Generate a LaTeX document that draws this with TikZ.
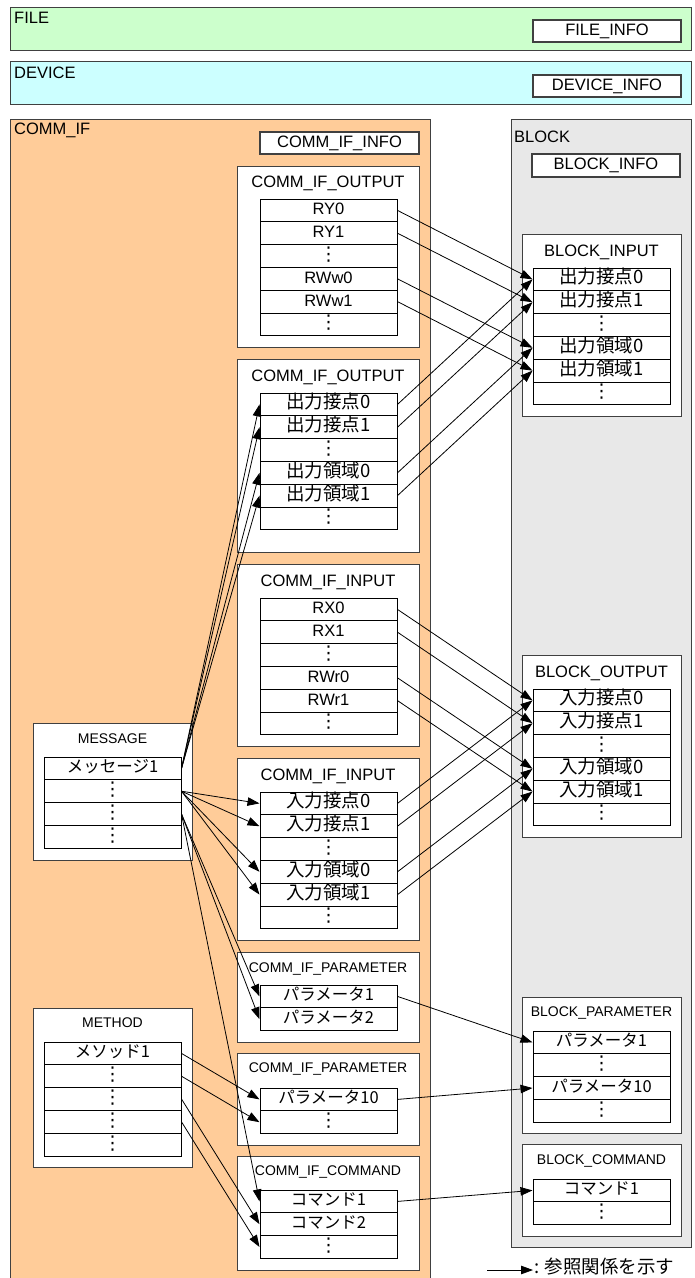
\documentclass[tikz,border=0pt]{standalone}
\usepackage{fontspec}
\setmainfont{Liberation Sans}
\newfontfamily\jpfam{Noto Sans CJK JP}
\newfontfamily\dv{DejaVu Sans}
\usetikzlibrary{arrows.meta}
\definecolor{filegreen}{HTML}{CCFFCC}
\definecolor{devcyan}{HTML}{CCFFFF}
\definecolor{commorange}{HTML}{FFCC99}
\definecolor{blockgray}{HTML}{E8E8E8}
\definecolor{edgegray}{HTML}{404040}
\newcommand\szL{\fontsize{16.5}{19}\selectfont}
\newcommand\szS{\fontsize{14}{16}\selectfont}
\newcommand\jk{\jpfam\fontsize{16.5}{19}\selectfont}
\newcommand\jp{\jpfam\fontsize{18.5}{21}\selectfont}
\newcommand\vd{{\dv\fontsize{19}{21}\selectfont ⋮}}
\newcommand\tbl[4]{%
  \foreach \lbl [count=\i] in {#4} {
    \node[cell] (#1\i) at (#2, {#3+22.8*\i-11.4}) {\lbl};
  }%
}
\begin{document}
\begin{tikzpicture}[x=1pt,y=-1pt,
  region/.style={draw=edgegray, line width=1.2pt, anchor=north west, inner sep=0pt},
  cont/.style={draw=edgegray, fill=white, line width=1.1pt, anchor=north west, inner sep=0pt},
  infobox/.style={draw=edgegray, fill=white, line width=1.1pt, font=\szL, inner sep=0pt},
  rlab/.style={anchor=west, font=\szL, inner sep=0pt},
  clabL/.style={font=\szL, inner sep=0pt},
  clabS/.style={font=\szS, inner sep=0pt},
  cell/.style={draw=black, fill=white, line width=1pt, minimum width=137pt, minimum height=22.8pt,
    inner sep=0pt, font=\szL, text height=12pt, text depth=3pt},
  arr/.style={line width=0.8pt, -{Triangle[length=12pt,width=8.5pt]}}
]
\useasboundingbox (0,0) rectangle (694,1278);

% ---- top regions
\node[region, fill=filegreen, minimum width=681pt, minimum height=43pt] (file) at (10,7) {};
\node[rlab] (filel) at (14,18) {FILE};
\node[infobox, minimum width=148pt, minimum height=22pt] (fileinfo) at (607,31) {FILE\_INFO};

\node[region, fill=devcyan, minimum width=681pt, minimum height=43pt] (device) at (10,61) {};
\node[rlab] (devicel) at (14,73) {DEVICE};
\node[infobox, minimum width=148pt, minimum height=22pt] (deviceinfo) at (607,86) {DEVICE\_INFO};

% ---- COMM_IF region
\node[region, fill=commorange, minimum width=420pt, minimum height=1180pt] (comm) at (10,119) {};
\node[rlab] (comml) at (14,130) {COMM\_IF};
\node[infobox, minimum width=159pt, minimum height=22pt] (comminfo) at (339.5,143) {COMM\_IF\_INFO};

% ---- BLOCK region
\node[region, fill=blockgray, minimum width=180pt, minimum height=1128pt] (block) at (511,119) {};
\node[rlab] (blockl) at (514,137) {BLOCK};
\node[infobox, minimum width=148pt, minimum height=23pt] (blockinfo) at (606,165.5) {BLOCK\_INFO};

% ---- containers
\node[cont, minimum width=182pt, minimum height=181pt] (co1) at (237,166) {};
\node[clabL] (co1l) at (328,183) {COMM\_IF\_OUTPUT};
\tbl{coA-}{328.5}{199}{RY0,RY1,\vd,RWw0,RWw1,\vd}

\node[cont, minimum width=159pt, minimum height=182pt] (bi) at (522,234) {};
\node[clabL] (bil) at (601.5,252) {BLOCK\_INPUT};
\tbl{bi-}{601.5}{268}{{\jp 出力接点0},{\jp 出力接点1},\vd,{\jp 出力領域0},{\jp 出力領域1},\vd}

\node[cont, minimum width=182pt, minimum height=193pt] (co2) at (237,359) {};
\node[clabL] (co2l) at (328,377) {COMM\_IF\_OUTPUT};
\tbl{coB-}{328.5}{393}{{\jp 出力接点0},{\jp 出力接点1},\vd,{\jp 出力領域0},{\jp 出力領域1},\vd}

\node[cont, minimum width=182pt, minimum height=182pt] (ci1) at (237,564) {};
\node[clabL] (ci1l) at (328,582) {COMM\_IF\_INPUT};
\tbl{ciA-}{328.5}{598}{RX0,RX1,\vd,RWr0,RWr1,\vd}

\node[cont, minimum width=159pt, minimum height=182pt] (bo) at (522,655) {};
\node[clabL] (bol) at (601.5,673) {BLOCK\_OUTPUT};
\tbl{bo-}{601.5}{689}{{\jp 入力接点0},{\jp 入力接点1},\vd,{\jp 入力領域0},{\jp 入力領域1},\vd}

\node[cont, minimum width=182pt, minimum height=182pt] (ci2) at (237,758) {};
\node[clabL] (ci2l) at (328,776) {COMM\_IF\_INPUT};
\tbl{ciB-}{328.5}{792}{{\jp 入力接点0},{\jp 入力接点1},\vd,{\jp 入力領域0},{\jp 入力領域1},\vd}

\node[cont, minimum width=159pt, minimum height=137pt] (msg) at (33,723) {};
\node[clabS] (msgl) at (112.5,739) {MESSAGE};
\tbl{msg-}{112.5}{757}{{\jk メッセージ1},\vd,\vd,\vd}

\node[cont, minimum width=182pt, minimum height=90pt] (cp1) at (237,952) {};
\node[clabS] (cp1l) at (328,969) {COMM\_IF\_PARAMETER};
\tbl{cpA-}{328.5}{985}{{\jk パラメータ1},{\jk パラメータ2}}

\node[cont, minimum width=159pt, minimum height=136pt] (bp) at (522,997) {};
\node[clabS] (bpl) at (601.5,1013) {BLOCK\_PARAMETER};
\tbl{bp-}{601.5}{1031}{{\jk パラメータ1},\vd,{\jk パラメータ10},\vd}

\node[cont, minimum width=182pt, minimum height=92pt] (cp2) at (237,1053) {};
\node[clabS] (cp2l) at (328,1069) {COMM\_IF\_PARAMETER};
\tbl{cpB-}{328.5}{1088}{{\jk パラメータ10},\vd}

\node[cont, minimum width=159pt, minimum height=159pt] (mth) at (33,1008) {};
\node[clabS] (mthl) at (112.5,1023) {METHOD};
\tbl{mth-}{112.5}{1042}{{\jk メソッド1},\vd,\vd,\vd,\vd}

\node[cont, minimum width=182pt, minimum height=114pt] (cc) at (237,1156) {};
\node[clabS] (ccl) at (328,1172) {COMM\_IF\_COMMAND};
\tbl{cc-}{328.5}{1190}{{\jk コマンド1},{\jk コマンド2},\vd}

\node[cont, minimum width=159pt, minimum height=92pt] (bc) at (522,1144) {};
\node[clabS] (bcl) at (601.5,1161) {BLOCK\_COMMAND};
\tbl{bc-}{601.5}{1179}{{\jk コマンド1},\vd}

% ---- connectors
\foreach \k in {1,2,4,5} {
  \draw[arr] (coA-\k.east) -- (bi-\k.west);
  \draw[arr] (coB-\k.east) -- (bi-\k.west);
  \draw[arr] (msg-1.east) -- (coB-\k.west);
  \draw[arr] (ciA-\k.east) -- (bo-\k.west);
  \draw[arr] (ciB-\k.east) -- (bo-\k.west);
  \draw[arr] (msg-2.east) -- (ciB-\k.west);
}
\draw[arr] (msg-3.east) -- (cpA-1.west);
\draw[arr] (msg-3.east) -- (cpA-2.west);
\draw[arr] (msg-3.east) -- (cc-1.west);
\draw[arr] (mth-1.east) -- (cpB-1.west);
\draw[arr] (mth-2.east) -- (cpB-2.west);
\draw[arr] (mth-3.east) -- (cc-2.west);
\draw[arr] (mth-4.east) -- (cc-3.west);
\draw[arr] (cpA-1.east) -- (bp-1.west);
\draw[arr] (cpB-1.east) -- (bp-3.west);
\draw[arr] (cc-1.east) -- (bc-1.west);

% ---- legend
\coordinate (lgs) at (487,1270);
\node[anchor=west, inner sep=1pt] (lgt) at (533,1267) {{\jp : 参照関係を示す}};
\draw[arr] (lgs) -- (lgt.west |- lgs);
\end{tikzpicture}
\end{document}
